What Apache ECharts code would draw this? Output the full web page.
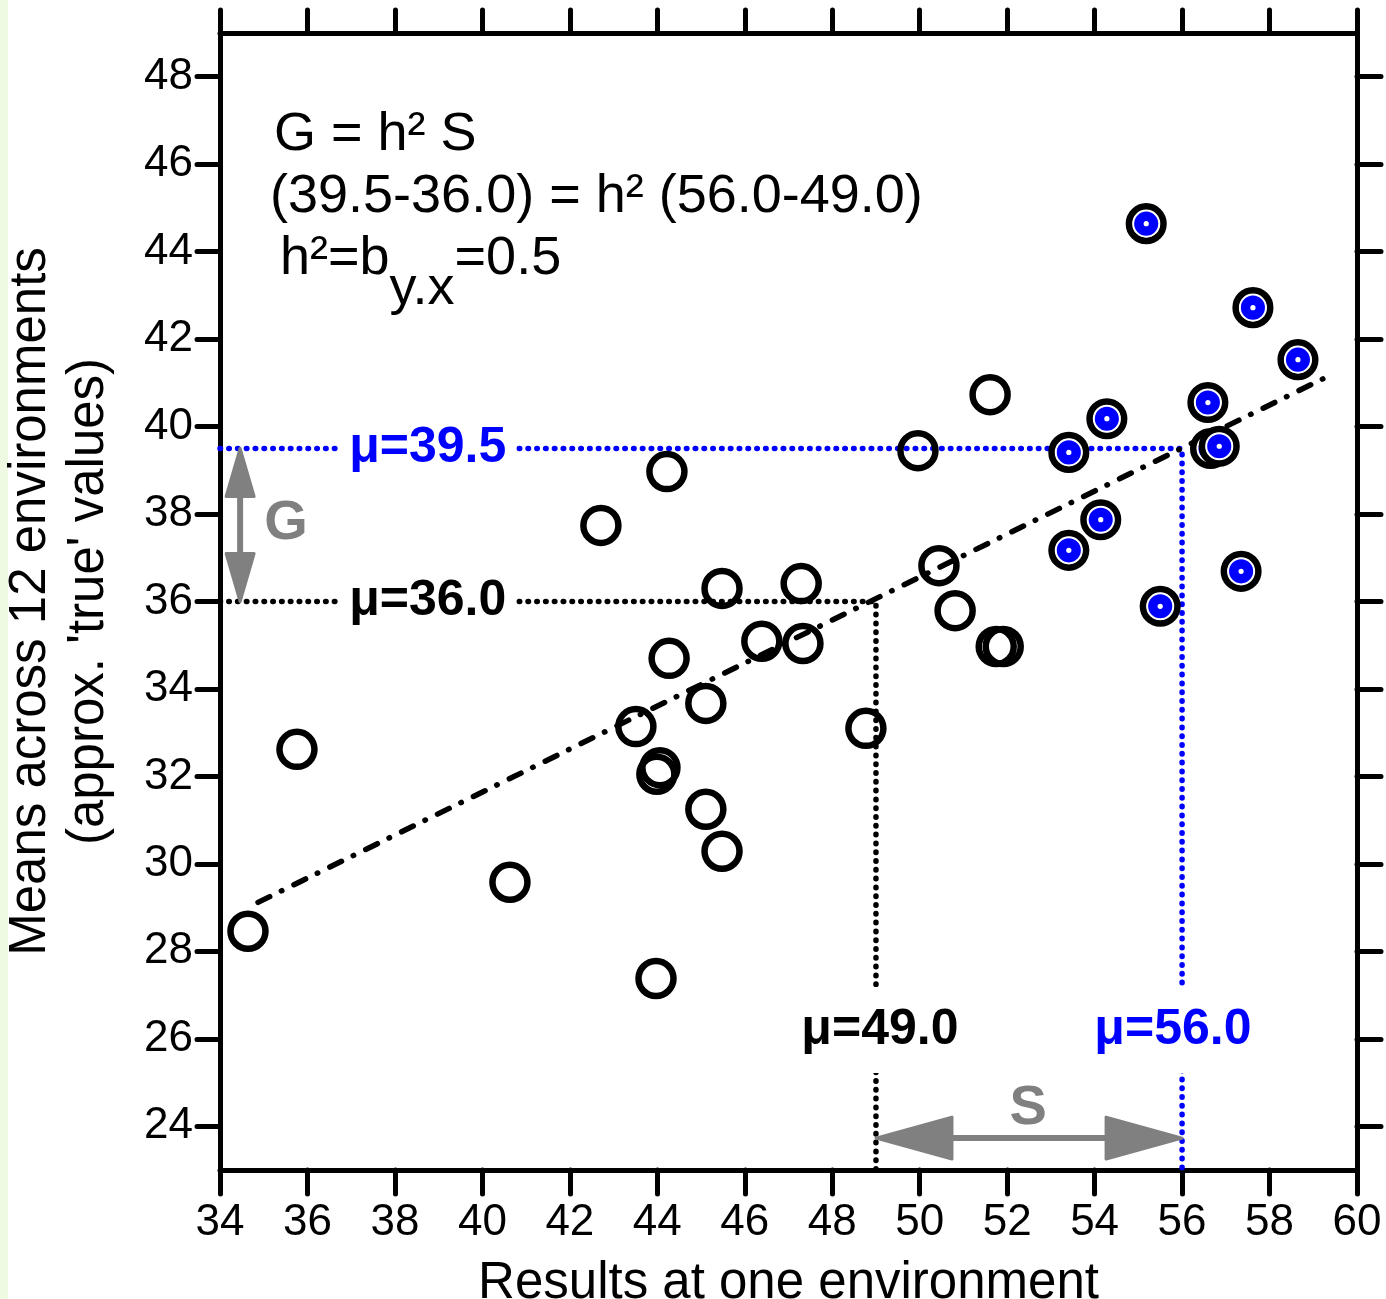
<!DOCTYPE html>
<html>
<head>
<meta charset="utf-8">
<script src="https://cdn.jsdelivr.net/npm/echarts@6/dist/echarts.min.js"></script>
<style>
  html, body { margin: 0; padding: 0; background: #fff; }
  #chart { width: 1386px; height: 1299px; }
</style>
</head>
<body>
<div id="chart"></div>
<script>
// unselected lines: result at one environment (x) vs mean over 12 environments (y)
const openX = [34.64, 35.76, 40.63, 42.71, 44.22, 43.51, 44.06, 43.99, 43.97, 44.27, 45.11, 45.11,
               45.48, 45.48, 46.39, 47.29, 47.33, 48.77, 49.96, 50.44, 50.81, 51.61, 51.75, 51.91];
const openY = [28.46, 32.62, 29.58, 37.74, 38.97, 33.14, 32.20, 32.05, 27.38, 34.70, 33.67, 31.25,
               30.29, 36.30, 35.09, 36.41, 35.04, 33.10, 39.45, 36.82, 35.79, 40.73, 34.97, 34.97];
// selected lines (blue)
const selX = [55.18, 57.62, 58.65, 56.59, 54.28, 53.41, 56.65, 56.85, 54.14, 53.41, 57.35, 55.50];
const selY = [44.64, 42.72, 41.53, 40.55, 40.18, 39.41, 39.50, 39.55, 37.87, 37.17, 36.69, 35.89];

const xTicks = [34, 36, 38, 40, 42, 44, 46, 48, 50, 52, 54, 56, 58, 60];
const yTicks = [24, 26, 28, 30, 32, 34, 36, 38, 40, 42, 44, 46, 48];
const xMin = 34, xMax = 60, yMin = 23, yMax = 49;

// population means (black) and selected means (blue)
const meanX = [49.0, 56.0];
const meanY = [36.0, 39.5];
// regression line end points
const regX = [34.87, 59.40];
const regY = [29.12, 41.18];

const muText = ['μ=36.0', 'μ=39.5', 'μ=49.0', 'μ=56.0'];
const muAt = [[38.75, 36.0], [38.75, 39.5], [49.09, 26.2], [55.79, 26.2]];
const muColor = ['#000', '#0000ff', '#000', '#0000ff'];

const FONT = '"Liberation Sans", Arial, sans-serif';
const BLUE = '#0000ff';
const GRAY = '#808080';

const openPts = openX.map((x, i) => [x, openY[i]]);
const selPts = selX.map((x, i) => [x, selY[i]]);

function arrowSeries(p0, p1, headLen, headHalf) {
  return {
    type: 'custom',
    data: [[p0[0], p0[1], p1[0], p1[1]]],
    encode: { x: [0, 2], y: [1, 3] },
    z: 6,
    silent: true,
    renderItem: function (params, api) {
      const a = api.coord([api.value(0), api.value(1)]);
      const b = api.coord([api.value(2), api.value(3)]);
      const dx = b[0] - a[0], dy = b[1] - a[1];
      const L = Math.hypot(dx, dy), ux = dx / L, uy = dy / L, nx = -uy, ny = ux;
      const st = { fill: GRAY, stroke: GRAY, lineWidth: 3, lineJoin: 'round' };
      return {
        type: 'group',
        children: [
          { type: 'line', shape: { x1: a[0] + ux * headLen * 0.8, y1: a[1] + uy * headLen * 0.8,
                                   x2: b[0] - ux * headLen * 0.8, y2: b[1] - uy * headLen * 0.8 },
            style: { stroke: GRAY, lineWidth: 6 } },
          { type: 'polygon', shape: { points: [a,
              [a[0] + ux * headLen + nx * headHalf, a[1] + uy * headLen + ny * headHalf],
              [a[0] + ux * headLen - nx * headHalf, a[1] + uy * headLen - ny * headHalf]] }, style: st },
          { type: 'polygon', shape: { points: [b,
              [b[0] - ux * headLen + nx * headHalf, b[1] - uy * headLen + ny * headHalf],
              [b[0] - ux * headLen - nx * headHalf, b[1] - uy * headLen - ny * headHalf]] }, style: st }
        ]
      };
    }
  };
}

const chart = echarts.init(document.getElementById('chart'));

const axisLine = { show: true, lineStyle: { color: '#000', width: 5 } };
const tickStyle = { color: '#000', width: 5, cap: 'round' };

const option = {
  backgroundColor: '#fff',
  animation: false,
  grid: { left: 220, right: 29, top: 33, bottom: 129, containLabel: false, outerBoundsMode: 'none' },
  xAxis: [
    {
      type: 'value', position: 'bottom', min: xMin, max: xMax, interval: 2,
      axisLine: axisLine,
      axisTick: { show: true, inside: false, length: 24, lineStyle: tickStyle, customValues: xTicks },
      axisLabel: { show: true, margin: 31, fontSize: 44, color: '#000', fontFamily: FONT, customValues: xTicks },
      splitLine: { show: false },
      name: 'Results at one environment', nameLocation: 'middle', nameGap: 88,
      nameTextStyle: { fontSize: 51, color: '#000', fontFamily: FONT }
    },
    {
      type: 'value', position: 'top', min: xMin, max: xMax, interval: 2,
      axisLine: axisLine,
      axisTick: { show: true, inside: false, length: 23, lineStyle: tickStyle, customValues: xTicks },
      axisLabel: { show: false },
      splitLine: { show: false }
    }
  ],
  yAxis: [
    {
      type: 'value', position: 'left', min: yMin, max: yMax,
      axisLine: axisLine,
      axisTick: { show: true, inside: false, length: 23, lineStyle: tickStyle, customValues: yTicks },
      axisLabel: { show: true, margin: 27, fontSize: 44, color: '#000', fontFamily: FONT, customValues: yTicks },
      splitLine: { show: false },
      name: "Means across 12 environments\n(approx. 'true' values)",
      nameLocation: 'middle', nameGap: 102, nameRotate: 90,
      nameTextStyle: { fontSize: 51, lineHeight: 58, color: '#000', fontFamily: FONT, align: 'center' }
    },
    {
      type: 'value', position: 'right', min: yMin, max: yMax,
      axisLine: axisLine,
      axisTick: { show: true, inside: false, length: 24, lineStyle: tickStyle, customValues: yTicks },
      axisLabel: { show: false },
      splitLine: { show: false }
    }
  ],
  graphic: [
    { type: 'rect', left: 0, top: 0, shape: { width: 8, height: 1299 }, style: { fill: '#effae2' }, z: -1 },
    { type: 'text', left: 274, top: 108, style: { text: 'G = h² S', font: '54px ' + FONT, fill: '#000' } },
    { type: 'text', left: 270, top: 170, style: { text: '(39.5-36.0) = h² (56.0-49.0)', font: '54px ' + FONT, fill: '#000' } },
    { type: 'text', left: 280, top: 232, style: {
        text: '{a|h²=b}{s|y.x}{a|=0.5}',
        rich: {
          a: { fontSize: 54, fontFamily: FONT, fill: '#000', verticalAlign: 'top', lineHeight: 84 },
          s: { fontSize: 54, fontFamily: FONT, fill: '#000', verticalAlign: 'bottom', lineHeight: 84 }
        } } }
  ],
  series: [
    {
      // black (population) mean lines
      type: 'line', xAxisIndex: 0, yAxisIndex: 0, silent: true, symbol: 'none', z: 1,
      data: [[xMin, meanY[0]], [meanX[0], meanY[0]], [meanX[0], yMin]],
      lineStyle: { color: '#000', width: 5.5, type: [0.5, 8.3], cap: 'round' }
    },
    {
      // blue (selected) mean lines
      type: 'line', xAxisIndex: 0, yAxisIndex: 0, silent: true, symbol: 'none', z: 1,
      data: [[xMin, meanY[1]], [meanX[1], meanY[1]], [meanX[1], yMin]],
      lineStyle: { color: BLUE, width: 5.5, type: [0.5, 8.3], cap: 'round' }
    },
    {
      // regression line, slope = h2
      type: 'line', xAxisIndex: 0, yAxisIndex: 0, silent: true, symbol: 'none', z: 2,
      data: regX.map((x, i) => [x, regY[i]]),
      lineStyle: { color: '#000', width: 5.5, type: [13, 13, 0.5, 13.5], cap: 'round' }
    },
    {
      type: 'scatter', xAxisIndex: 0, yAxisIndex: 0, data: openPts, symbol: 'circle', symbolSize: 35, z: 3,
      itemStyle: { color: 'rgba(0,0,0,0)', borderColor: '#000', borderWidth: 6.5, opacity: 1 }
    },
    {
      type: 'custom', xAxisIndex: 0, yAxisIndex: 0, data: selPts, z: 4,
      renderItem: function (params, api) {
        const p = api.coord([api.value(0), api.value(1)]);
        return {
          type: 'group',
          children: [
            { type: 'circle', shape: { cx: p[0], cy: p[1], r: 17.3 }, style: { fill: '#fff', stroke: '#000', lineWidth: 6.5 } },
            { type: 'circle', shape: { cx: p[0], cy: p[1], r: 12.8 }, style: { fill: BLUE, stroke: '#fff', lineWidth: 1.5 } },
            { type: 'circle', shape: { cx: p[0], cy: p[1], r: 2.6 }, style: { fill: '#fff' } }
          ]
        };
      }
    },
    arrowSeries([34.46, meanY[1]], [34.46, meanY[0]], 48, 14),
    arrowSeries([meanX[0], 23.73], [meanX[1], 23.73], 76, 21),
    {
      // mean labels
      type: 'scatter', xAxisIndex: 0, yAxisIndex: 0, symbolSize: 0, silent: true, z: 7,
      itemStyle: { opacity: 1 },
      data: muText.map((t, i) => ({ name: t, value: muAt[i],
        label: { color: muColor[i] } })),
      label: {
        show: true, position: 'inside', formatter: '{b}', opacity: 1,
        fontSize: 50, fontWeight: 'bold', fontFamily: FONT,
        backgroundColor: '#fff', padding: [18, 10]
      }
    },
    {
      // G and S labels
      type: 'scatter', xAxisIndex: 0, yAxisIndex: 0, symbolSize: 0, silent: true, z: 7,
      itemStyle: { opacity: 1 },
      data: [{ name: 'G', value: [35.51, 37.78] }, { name: 'S', value: [52.48, 24.41] }],
      label: { show: true, position: 'inside', formatter: '{b}', fontSize: 56, fontWeight: 'bold', opacity: 1,
               fontFamily: FONT, color: GRAY }
    }
  ]
};

chart.setOption(option);
</script>
</body>
</html>
